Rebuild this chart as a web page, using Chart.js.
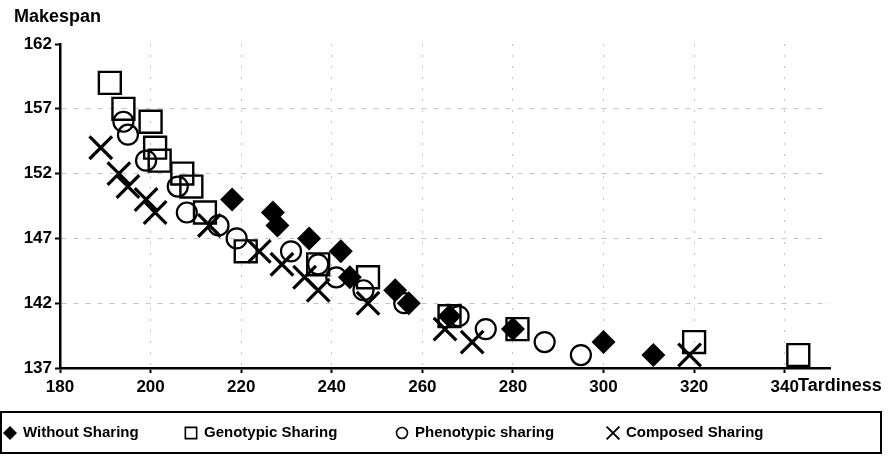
<!DOCTYPE html>
<html lang="en">
<head>
<meta charset="UTF-8">
<title>Makespan vs Tardiness</title>
<script src="https://cdn.jsdelivr.net/npm/chart.js@4.4.0/dist/chart.umd.min.js"></script>
<style>
  html, body { margin: 0; padding: 0; background: #fff; }
  #wrap { width: 894px; height: 456px; }
</style>
</head>
<body>
<div id="wrap"><canvas id="myChart" width="894" height="456"></canvas></div>
<script>
// Pareto fronts: tardiness (x) against makespan (y)
const seriesNames = ['Without Sharing', 'Genotypic Sharing', 'Phenotypic sharing', 'Composed Sharing'];

const withoutTard = [218, 227, 228, 235, 242, 244, 254, 257, 266, 280, 300, 311];
const withoutSpan = [150, 149, 148, 147, 146, 144, 143, 142, 141, 140, 139, 138];

const genoTard = [191, 194, 200, 201, 202, 207, 209, 212, 221, 237, 248, 266, 281, 320, 343];
const genoSpan = [159, 157, 156, 154, 153, 152, 151, 149, 146, 145, 144, 141, 140, 139, 138];

const phenoTard = [194, 195, 199, 206, 208, 215, 219, 231, 237, 241, 247, 256, 268, 274, 287, 295];
const phenoSpan = [156, 155, 153, 151, 149, 148, 147, 146, 145, 144, 143, 142, 141, 140, 139, 138];

const compTard = [189, 193, 195, 199, 201, 213, 224, 229, 234, 237, 248, 265, 271, 319];
const compSpan = [154, 152, 151, 150, 149, 148, 146, 145, 144, 143, 142, 140, 139, 138];

const xTicks = [180, 200, 220, 240, 260, 280, 300, 320, 340];
const yTicks = [137, 142, 147, 152, 157, 162];

const FONT = "'Liberation Sans', Arial, sans-serif";

function toPoints(xs, ys) {
    return xs.map((x, i) => ({ x: x, y: ys[i] }));
}

// marker look per series: diamond, hollow square, hollow circle, cross
const markers = [
    { pointStyle: 'rectRot', radius: 12, borderWidth: 0, fill: '#000' },
    { pointStyle: 'rect', radius: 15.5, borderWidth: 2.4, fill: 'transparent' },
    { pointStyle: 'circle', radius: 10, borderWidth: 2.2, fill: 'transparent' },
    { pointStyle: 'crossRot', radius: 16, borderWidth: 3.2, fill: 'transparent' }
];

const allData = [
    toPoints(withoutTard, withoutSpan),
    toPoints(genoTard, genoSpan),
    toPoints(phenoTard, phenoSpan),
    toPoints(compTard, compSpan)
];

const datasets = allData.map((pts, i) => ({
    label: seriesNames[i],
    data: pts,
    pointStyle: markers[i].pointStyle,
    pointRadius: markers[i].radius,
    pointHoverRadius: markers[i].radius,
    pointBorderWidth: markers[i].borderWidth,
    pointBorderColor: '#000',
    pointBackgroundColor: markers[i].fill,
    showLine: false,
    clip: false
}));

// axis titles and the boxed legend under the plot
const extras = {
    id: 'extras',
    afterDraw(chart) {
        const ctx = chart.ctx;
        ctx.save();
        ctx.fillStyle = '#000';
        ctx.textBaseline = 'middle';
        ctx.textAlign = 'left';
        ctx.font = 'bold 18px ' + FONT;
        ctx.fillText('Makespan', 14, 17);
        ctx.fillText('Tardiness', 798, 386);

        ctx.lineWidth = 2;
        ctx.strokeStyle = '#000';
        ctx.strokeRect(1, 412, 880, 41);

        const legendX = [10, 191, 402, 613];
        const legendMarks = [
            { pointStyle: 'rectRot', radius: 7, borderWidth: 0 },
            { pointStyle: 'rect', radius: 8, borderWidth: 1.6 },
            { pointStyle: 'circle', radius: 5.5, borderWidth: 1.6 },
            { pointStyle: 'crossRot', radius: 9, borderWidth: 2 }
        ];
        const ly = 433;
        ctx.font = 'bold 15px ' + FONT;
        seriesNames.forEach((name, i) => {
            const m = legendMarks[i];
            ctx.fillStyle = m.borderWidth === 0 ? '#000' : 'transparent';
            ctx.strokeStyle = '#000';
            ctx.lineWidth = m.borderWidth;
            Chart.helpers.drawPoint(ctx, { pointStyle: m.pointStyle, radius: m.radius, rotation: 0, borderWidth: m.borderWidth }, legendX[i], ly);
            ctx.fillStyle = '#000';
            ctx.fillText(name, legendX[i] + 13, ly);
        });
        ctx.restore();
    }
};

const gridColor = (c) => (c.tick && c.tick.value === 162) ? 'rgba(0,0,0,0)' : '#c4c4c4';

const ctx = document.getElementById('myChart').getContext('2d');

new Chart(ctx, {
    type: 'scatter',
    data: { datasets: datasets },
    plugins: [extras],
    options: {
        responsive: false,
        animation: false,
        devicePixelRatio: 1,
        layout: {
            autoPadding: false,
            padding: { left: 0, right: 64, top: 44, bottom: 0 }
        },
        plugins: {
            legend: { display: false },
            tooltip: { enabled: false }
        },
        scales: {
            x: {
                type: 'linear',
                min: 180,
                max: 350,
                afterBuildTicks: (scale) => {
                    scale.ticks = xTicks.map(v => ({ value: v }));
                },
                afterFit: (scale) => { scale.height = 88; },
                ticks: {
                    color: '#000',
                    padding: 4,
                    font: { family: FONT, size: 17, weight: 'bold' },
                    maxRotation: 0,
                    autoSkip: false
                },
                grid: {
                    color: '#c4c4c4',
                    lineWidth: 1,
                    drawTicks: true,
                    tickLength: 5,
                    tickColor: '#000',
                    tickWidth: 2
                },
                border: { display: true, color: '#000', width: 2.5, dash: [2, 9] }
            },
            y: {
                type: 'linear',
                min: 137,
                max: 162,
                afterBuildTicks: (scale) => {
                    scale.ticks = yTicks.map(v => ({ value: v }));
                },
                afterFit: (scale) => { scale.width = 60; },
                ticks: {
                    color: '#000',
                    padding: 3,
                    font: { family: FONT, size: 17, weight: 'bold' },
                    autoSkip: false
                },
                grid: {
                    color: gridColor,
                    lineWidth: 1,
                    drawTicks: true,
                    tickLength: 5,
                    tickColor: '#000',
                    tickWidth: 2
                },
                border: { display: true, color: '#000', width: 2.5, dash: [5, 7] }
            }
        }
    }
});
</script>
</body>
</html>
